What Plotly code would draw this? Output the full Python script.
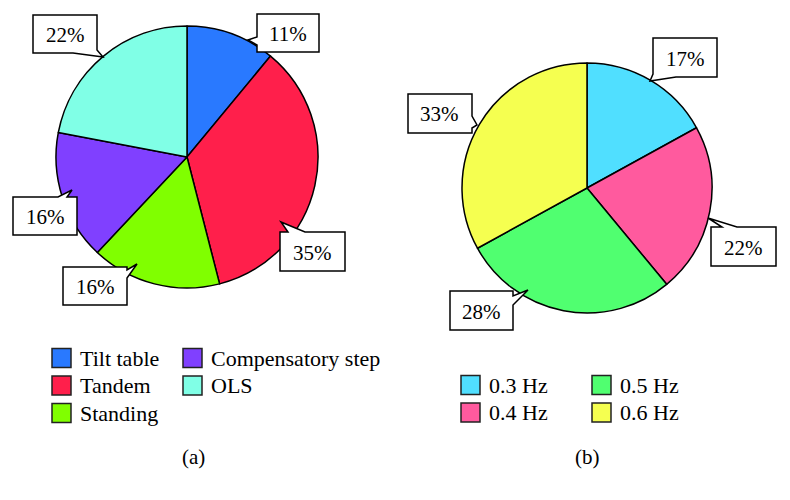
import plotly.graph_objects as go

# ---- data ----
labels_a = ["Tilt table", "Tandem", "Standing", "Compensatory step", "OLS"]
values_a = [11, 35, 16, 16, 22]
colors_a = ["#2979FF", "#FF1F4B", "#80FF00", "#8040FF", "#80FFE6"]

labels_b = ["0.3 Hz", "0.4 Hz", "0.5 Hz", "0.6 Hz"]
values_b = [17, 22, 28, 33]
colors_b = ["#50DFFF", "#FF5A9E", "#50FF70", "#F5FF50"]

OFF = 8  # page body margin
W, H = 790 - OFF, 500 - OFF
FONT = "Liberation Serif, Times New Roman, serif"


def px(x):
    return (x - OFF) / W


def py(y):
    return 1 - (y - OFF) / H


fig = go.Figure()

# pie (a): centre (187,157), r 131
fig.add_trace(go.Pie(
    labels=labels_a, values=values_a, sort=False, direction="clockwise", rotation=0,
    marker=dict(colors=colors_a, line=dict(color="black", width=1.5)),
    textinfo="none", hoverinfo="label+percent", showlegend=False,
    domain=dict(x=[px(56), px(318)], y=[py(288), py(26)]),
))
# pie (b): centre (587,188), r 125
fig.add_trace(go.Pie(
    labels=labels_b, values=values_b, sort=False, direction="clockwise", rotation=0,
    marker=dict(colors=colors_b, line=dict(color="black", width=1.5)),
    textinfo="none", hoverinfo="label+percent", showlegend=False,
    domain=dict(x=[px(462), px(712)], y=[py(313), py(63)]),
))

# ---- callouts (layout): polygon outline in pixels, text centre ----
callouts_a = [
    dict(box=(257, 14, 319, 52), pts=[(257, 14), (319, 14), (319, 52), (257, 52), (257, 45), (248, 40), (257, 37)]),
    dict(box=(280, 232, 345, 271), pts=[(280, 232), (288, 232), (281, 222), (305, 232), (345, 232), (345, 271), (280, 271)]),
    dict(box=(63, 267, 127, 305), pts=[(63, 267), (127, 267), (127, 270), (137, 264), (127, 278), (127, 305), (63, 305)]),
    dict(box=(13, 197, 77, 235), pts=[(13, 197), (58, 197), (72, 190), (67, 197), (77, 197), (77, 235), (13, 235)]),
    dict(box=(33, 15, 97, 53), pts=[(33, 15), (97, 15), (97, 50), (103, 57), (73, 53), (33, 53)]),
]
callouts_b = [
    dict(box=(653, 38, 717, 77), pts=[(653, 38), (717, 38), (717, 77), (676, 77), (650, 81), (653, 74)]),
    dict(box=(711, 227, 776, 266), pts=[(711, 227), (722, 227), (708, 218), (737, 227), (776, 227), (776, 266), (711, 266)]),
    dict(box=(450, 291, 513, 330), pts=[(450, 291), (513, 291), (513, 296), (528, 290), (513, 305), (513, 330), (450, 330)]),
    dict(box=(408, 94, 472, 133), pts=[(408, 94), (472, 94), (472, 116), (477, 125), (472, 128), (472, 133), (408, 133)]),
]

shapes = []
annotations = []


def add_callouts(callouts, values):
    for c, v in zip(callouts, values):
        path = "M " + " L ".join(f"{px(x)},{py(y)}" for x, y in c["pts"]) + " Z"
        shapes.append(dict(type="path", path=path, xref="paper", yref="paper",
                           fillcolor="white", line=dict(color="black", width=1.5), layer="above"))
        x0, y0, x1, y1 = c["box"]
        annotations.append(dict(x=px((x0 + x1) / 2), y=py((y0 + y1) / 2 + 1), xref="paper", yref="paper",
                                text=f"{v}%", showarrow=False, xanchor="center", yanchor="middle",
                                font=dict(family=FONT, size=21, color="black")))


add_callouts(callouts_a, values_a)
add_callouts(callouts_b, values_b)

# ---- legends (layout) ----
legend_a_pos = [(52, 358), (52, 385.5), (52, 413), (183, 358), (183, 385.5)]
legend_b_pos = [(461, 385), (461, 412.5), (592, 385), (592, 412.5)]
SW = 19


def add_legend(labels, colors, positions):
    for lab, col, (x, yc) in zip(labels, colors, positions):
        shapes.append(dict(type="rect", xref="paper", yref="paper",
                           x0=px(x), x1=px(x + SW), y0=py(yc + SW / 2), y1=py(yc - SW / 2),
                           fillcolor=col, line=dict(color="#222222", width=1.5)))
        annotations.append(dict(x=px(x + SW + 7), y=py(yc), xref="paper", yref="paper",
                                text=lab, showarrow=False, xanchor="left", yanchor="middle",
                                font=dict(family=FONT, size=22, color="black")))


add_legend(labels_a, colors_a, legend_a_pos)
add_legend(labels_b, colors_b, legend_b_pos)

for txt, x in [("(a)", 193), ("(b)", 587)]:
    annotations.append(dict(x=px(x), y=py(457), xref="paper", yref="paper", text=txt,
                            showarrow=False, xanchor="center", yanchor="middle",
                            font=dict(family=FONT, size=21, color="black")))

fig.update_layout(
    width=W, height=H, margin=dict(l=0, r=0, t=0, b=0),
    paper_bgcolor="white", plot_bgcolor="white",
    shapes=shapes, annotations=annotations, showlegend=False,
)

fig.write_html("out.html")
